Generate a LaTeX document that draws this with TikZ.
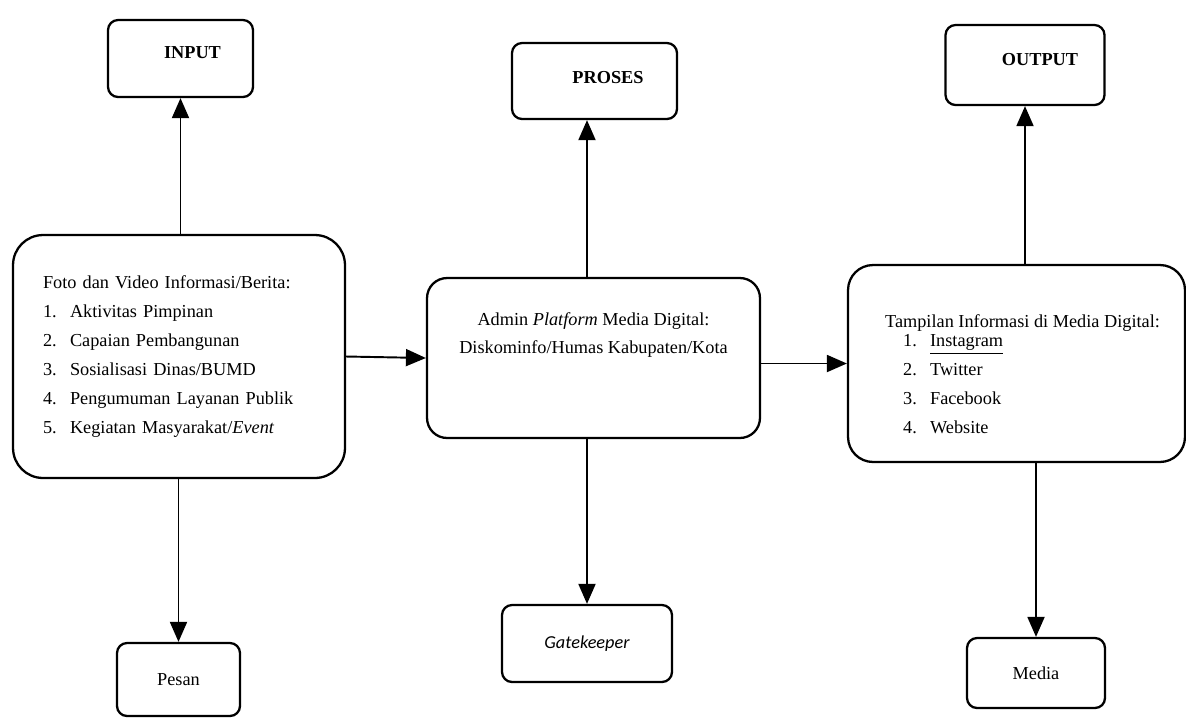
\documentclass[tikz,border=0pt]{standalone}
\usepackage{fontspec}
\setmainfont{Liberation Serif}
\newfontfamily\carlito{Carlito}
\usepackage{tikz}
\usetikzlibrary{arrows.meta}
\newcommand{\butir}[2]{\makebox[0.54cm][l]{#1}#2}

\begin{document}
\fontsize{10.4}{16.5}\selectfont
\begin{tikzpicture}[x=0.02cm,y=-0.02cm,
	kotak/.style={draw,line width=1.3pt,rounded corners=#1,inner sep=0pt},
	kotak/.default=0.2cm,
	judul/.style={font=\bfseries},
	panah/.style={line width=1.1pt,-{Triangle[length=0.4cm,width=0.34cm]}}]
	\useasboundingbox (0,0) rectangle (1186,718);
	\node[kotak, minimum width=2.9cm, minimum height=1.54cm, label={[judul,xshift=0.24cm,yshift=0.11cm]center:INPUT}] (inp) at (180.5,58.5) {};
	\node[kotak, minimum width=3.3cm, minimum height=1.52cm, label={[judul,xshift=0.27cm,yshift=0.06cm]center:PROSES}] (pros) at (594.5,81) {};
	\node[kotak, minimum width=3.18cm, minimum height=1.6cm, label={[judul,xshift=0.3cm,yshift=0.1cm]center:OUTPUT}] (outp) at (1025,65) {};
	\node[kotak=0.6cm, minimum width=6.64cm, minimum height=4.86cm, text width=5.44cm, inner xsep=0.6cm, align=left] (foto) at (179,356.5) {Foto dan Video Informasi/Berita:\\ \butir{1.}{Aktivitas Pimpinan}\\ \butir{2.}{Capaian Pembangunan}\\ \butir{3.}{Sosialisasi Dinas/BUMD}\\ \butir{4.}{Pengumuman Layanan Publik}\\ \butir{5.}{Kegiatan Masyarakat/\textit{Event}}};
	\node[kotak=0.4cm, minimum width=6.66cm, minimum height=3.2cm, label={[align=center,yshift=0.46cm]center:{Admin \textit{Platform} Media Digital:\\Diskominfo/Humas Kabupaten/Kota}}] (admin) at (593.5,358) {};
	\node[kotak=0.5cm, minimum width=6.74cm, minimum height=3.94cm, label={[align=left,xshift=0.12cm,yshift=-0.22cm]center:{Tampilan Informasi di Media Digital:\\[-0.2cm] \hspace*{0.36cm}\butir{1.}{\underline{Instagram}}\\ \hspace*{0.36cm}\butir{2.}{Twitter}\\ \hspace*{0.36cm}\butir{3.}{Facebook}\\ \hspace*{0.36cm}\butir{4.}{Website}}}] (tamp) at (1016.5,363.5) {};
	\node[kotak, minimum width=2.46cm, minimum height=1.46cm] (pesan) at (178.5,679.5) {Pesan};
	\node[kotak, minimum width=3.4cm, minimum height=1.54cm] (gate) at (587,643.5) {\carlito\itshape Gatekeeper};
	\node[kotak, minimum width=2.76cm, minimum height=1.4cm] (media) at (1036,673) {Media};
	\draw[panah] (inp.south |- foto.north) -- (inp.south);
	\draw[panah] (pesan.north |- foto.south) -- (pesan.north);
	\draw[panah] (foto.east) -- (admin.west);
	\draw[panah] (gate.north |- admin.north) -- (gate.north |- pros.south);
	\draw[panah] (gate.north |- admin.south) -- (gate.north);
	\draw[panah] (admin.east |- tamp.west) -- (tamp.west);
	\draw[panah] (outp.south |- tamp.north) -- (outp.south);
	\draw[panah] (media.north |- tamp.south) -- (media.north);
\end{tikzpicture}
\end{document}
